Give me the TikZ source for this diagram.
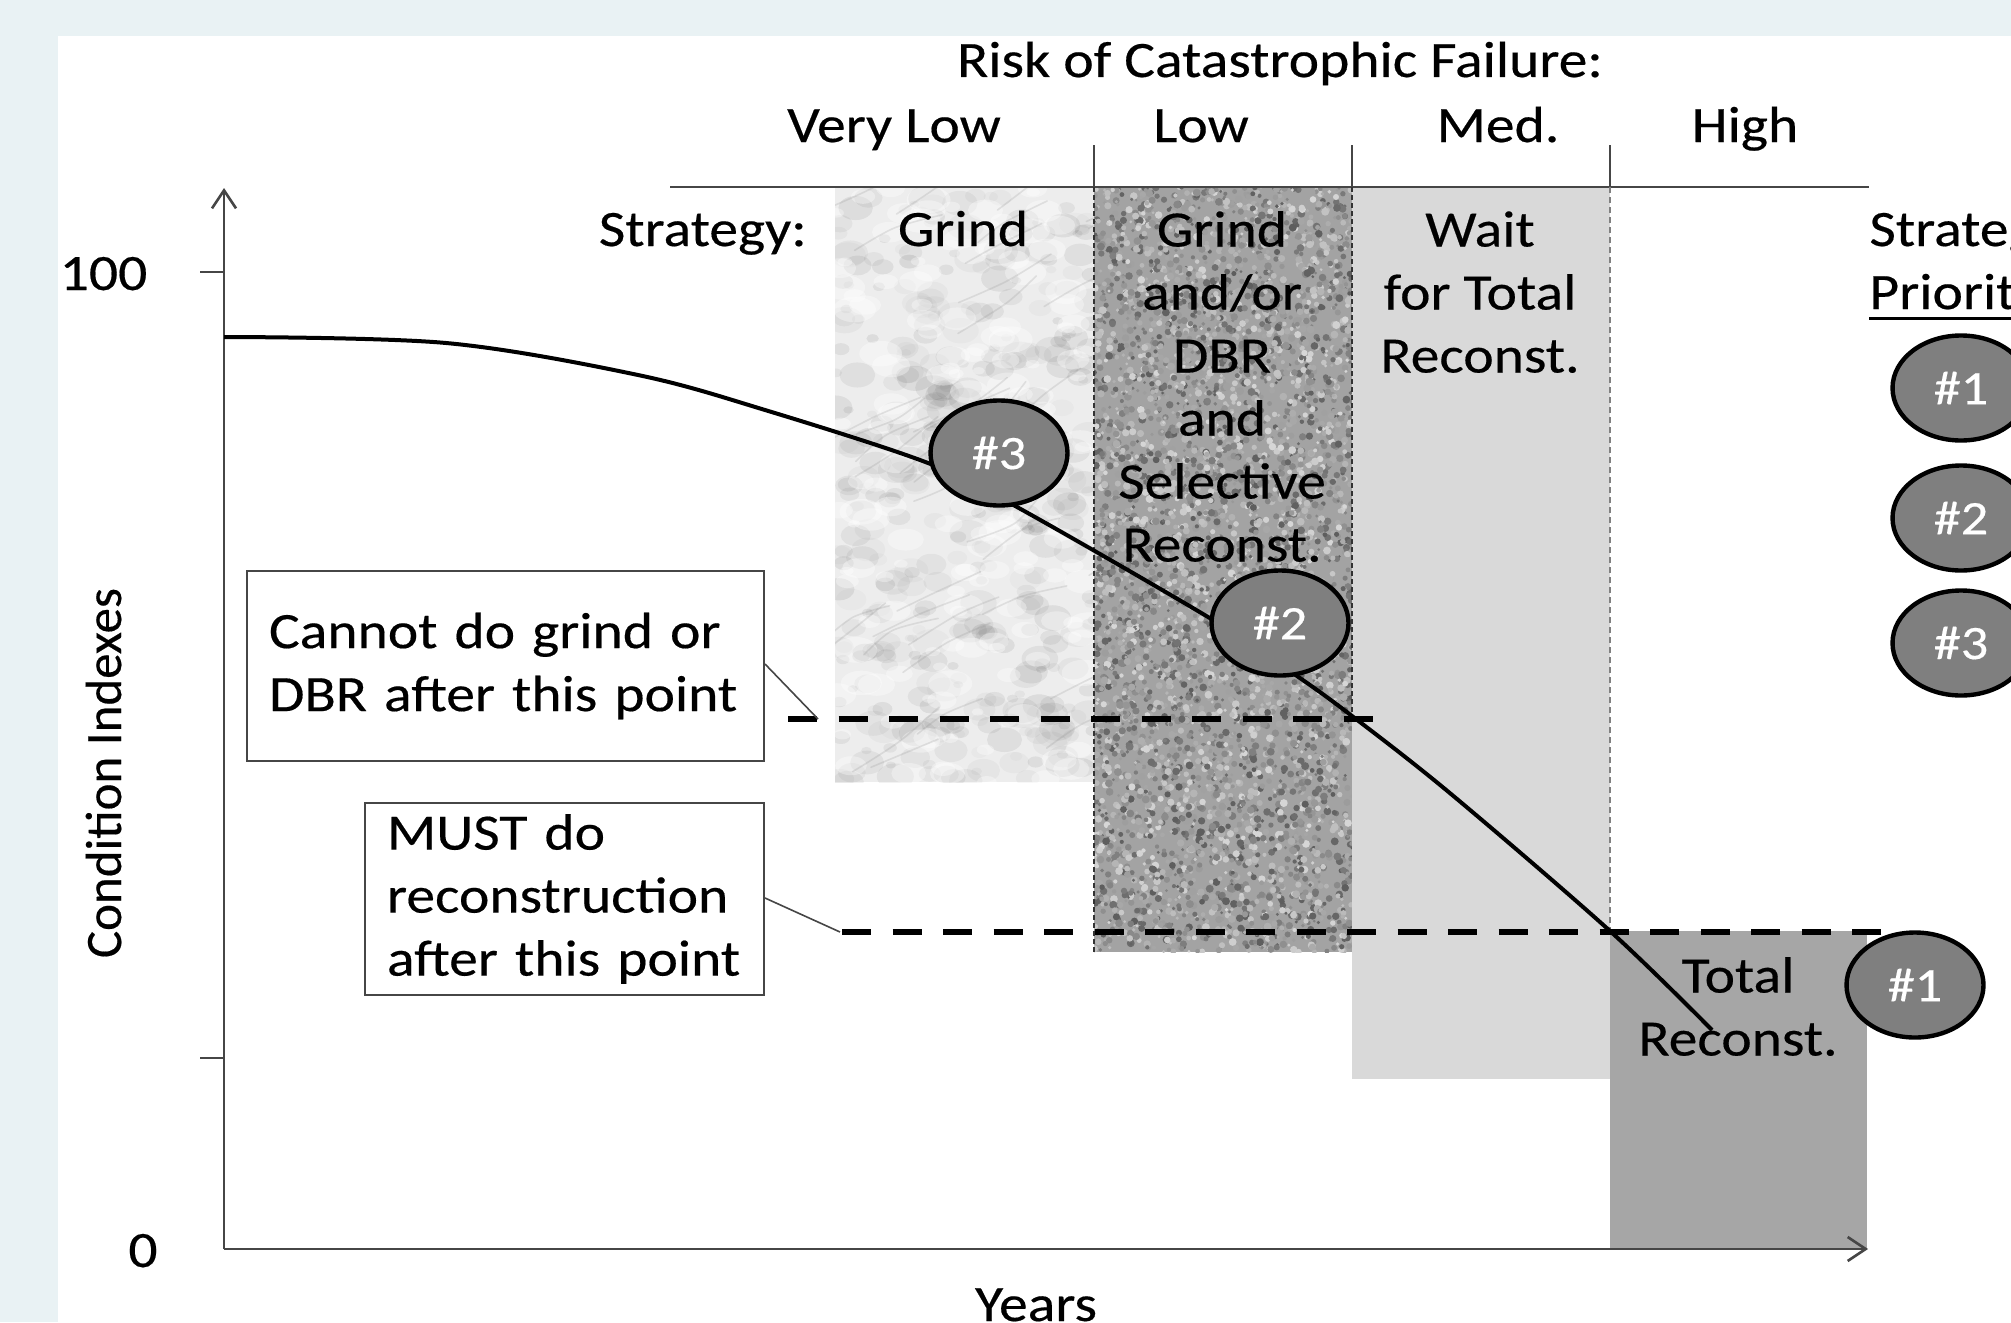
\documentclass[tikz,border=0pt]{standalone}
\usepackage{fontspec}
\setmainfont{Carlito}[FakeStretch=1.13,FakeBold=0.35]
\newfontfamily\uprightlabel{Carlito}[FakeBold=0.35]
\usetikzlibrary{arrows.meta,shapes.geometric}
\definecolor{bandbg}{RGB}{233,242,244}
\definecolor{medfill}{RGB}{217,217,217}
\definecolor{highfill}{RGB}{166,166,166}
\definecolor{badgefill}{RGB}{127,127,127}
\definecolor{axisgray}{RGB}{70,70,70}
\newcommand\txtfont{\fontsize{25.5}{31.5}\selectfont}
\newcommand\badgefont{\fontsize{24}{28}\selectfont}

\begin{document}
\begin{tikzpicture}[x=0.5pt,y=-0.5pt,
  lbl/.style={font=\txtfont, inner sep=0pt},
  lines/.style={lbl, align=center, anchor=north},
  axisline/.style={draw=axisgray, line width=1.3pt},
  sepline/.style={draw=axisgray, line width=1pt},
  edgedots/.style={draw=black!80, line width=0.9pt, dash pattern=on 2.5pt off 1.5pt},
  edgegray/.style={draw=black!50, line width=1.1pt, dash pattern=on 3pt off 2pt},
  limit/.style={draw=black, line width=3pt, dash pattern=on 14.5pt off 10.75pt},
  pointer/.style={draw=axisgray, line width=0.8pt},
  callout/.style={draw=axisgray, line width=1pt, fill=white, font=\txtfont, align=left,
    inner xsep=11pt, inner ysep=0pt},
  badge/.style={ellipse, draw=black, line width=2.2pt, fill=badgefill, text=white,
    font=\badgefont, inner sep=0pt, minimum width=68.5pt, minimum height=52.5pt},
  tick/.style={draw=axisgray, line width=1.2pt}
]
\useasboundingbox (0,0) rectangle (2011,1322);
\clip (0,0) rectangle (2011,1322);

% page and chart area
\fill[bandbg] (0,0) rectangle (2011,1322);
\fill[white] (58,36) rectangle (2011,1322);

% strategy zones
% Grind: marble
\begin{scope}
  \clip (835,187) rectangle (1094,782);
  \fill[black!7] (835,187) rectangle (1094,782);
  \pgfmathsetseed{5}
  \foreach \k in {1,...,420}{
    \pgfmathsetmacro\mx{835+259*rnd}
    \pgfmathsetmacro\my{187+595*rnd}
    \pgfmathsetmacro\mr{5+14*rnd}
    \pgfmathsetmacro\mo{0.02+0.05*rnd}
    \fill[black, opacity=\mo] (\mx,\my) ellipse[x radius=\mr, y radius=0.7*\mr];
  }
  \foreach \k in {1,...,160}{
    \pgfmathsetmacro\mx{835+259*rnd}
    \pgfmathsetmacro\my{187+595*rnd}
    \pgfmathsetmacro\mr{6+16*rnd}
    \fill[white, opacity=0.35] (\mx,\my) ellipse[x radius=\mr, y radius=0.6*\mr];
  }
  % soft diagonal veins
  \foreach \k in {1,...,40}{
    \pgfmathsetmacro\ax{815+280*rnd}
    \pgfmathsetmacro\ay{187+595*rnd}
    \pgfmathsetmacro\bx{\ax+25+25*rnd}
    \pgfmathsetmacro\by{\ay-15-20*rnd}
    \pgfmathsetmacro\cx{\bx+25+25*rnd}
    \pgfmathsetmacro\cy{\by-10-25*rnd}
    \draw[black!50, line width=0.8pt, opacity=0.18, line cap=round] plot[smooth] coordinates {(\ax,\ay) (\bx,\by) (\cx,\cy)};
  }
\end{scope}
% Grind and/or DBR: granite
\begin{scope}
  \clip (1094,187) rectangle (1352,952);
  \fill[black!36] (1094,187) rectangle (1352,952);
  \pgfmathsetseed{11}
  \foreach \k in {1,...,5200}{
    \pgfmathsetmacro\gx{1094+258*rnd}
    \pgfmathsetmacro\gy{187+765*rnd}
    \pgfmathsetmacro\gs{1.5+2.5*rnd}
    \pgfmathsetmacro\gc{int(16+48*rnd)}
    \fill[black!\gc] (\gx,\gy) circle[radius=\gs];
  }
\end{scope}
% Wait for total reconstruction
\fill[medfill] (1352,187) rectangle (1610,1079);
% Total reconstruction
\fill[highfill] (1610,931) rectangle (1867,1249);

% risk header
\draw[sepline] (670,187) -- (1869,187);
\foreach \sx in {1094,1352,1610}{\draw[sepline] (\sx,145) -- (\sx,187);}
\draw[edgedots] (1094,187) -- (1094,952);
\draw[edgedots] (1352,187) -- (1352,718);
\draw[edgegray] (1610,187) -- (1610,931);

% axes
\coordinate (origin) at (224,1249);
\coordinate (ytop) at (224,188);
\coordinate (xend) at (1868,1249);
\draw[axisline, -{Straight Barb[length=9pt,width=12pt]}] (origin) -- (ytop);
\draw[axisline, -{Straight Barb[length=9pt,width=12pt]}] (origin) -- (xend);
\draw[tick] (200,272) -- (224,272);
\draw[tick] (200,1058) -- (224,1058);

% condition curve
\draw[black, line width=2pt] plot[smooth, tension=0.55] coordinates {
  (224,337) (446,343) (638,375) (765,410) (928,463) (1017,507) (1213,620)
  (1297,676) (1352,716) (1451,794) (1610,931) (1712,1030)};

% threshold lines
\coordinate (l1a) at (788,719);
\coordinate (l1b) at (1375,719);
\coordinate (l2a) at (842,932);
\coordinate (l2b) at (1900,932);
\draw[limit] (l1a) -- (l1b);
\draw[limit] (l2a) -- (l2b);

% call-outs
\node[callout, text width=236.5pt, minimum height=95pt] (box1) at (505.5,666)
  {\mbox{Cannot do grind or}\\\mbox{DBR after this point}};
\node[callout, text width=177.5pt, minimum height=96pt] (box2) at (564.5,899)
  {\mbox{MUST do}\\\mbox{reconstruction}\\\mbox{after this point}};
\coordinate (p1) at (818,719);
\coordinate (p2) at (840,932);
\draw[pointer] ([yshift=1pt]box1.east) -- (p1);
\draw[pointer] ([yshift=0.5pt]box2.east) -- (p2);

% priority badges on the curve
\node[badge] (c3) at (999,453) {\#3};
\node[badge] (c2) at (1280,623) {\#2};
\node[badge] (c1) at (1915,985) {\#1};

% priority legend
\node[badge] (k1) at (1961,388) {\#1};
\node[badge] (k2) at (1961,518) {\#2};
\node[badge] (k3) at (1961,643) {\#3};
\node[lbl, anchor=base west] (legtitle) at (1869,246) {Strategy};
\node[lbl, anchor=base west] (legsub) at (1869,309) {Priority};
\draw[black, line width=1.5pt] (1869,318) -- (2011,318);

% header texts
\node[lbl, anchor=base] (risk) at (1280,77) {Risk of Catastrophic Failure:};
\node[lbl, anchor=base] (rvl) at (894,142) {Very Low};
\node[lbl, anchor=base] (rl) at (1201,142) {Low};
\node[lbl, anchor=base] (rm) at (1498,142) {Med.};
\node[lbl, anchor=base] (rh) at (1745,142) {High};

% strategy texts
\node[lbl, anchor=base east] (strat) at (807,246) {Strategy:};
\node[lbl, anchor=base] (s1) at (963,246) {Grind};
\node[lines] (s2) at (1222,202) {\strut Grind\\and/or\\DBR\\and\\Selective\\Reconst.};
\node[lines] (s3) at (1480,202) {\strut Wait\\for Total\\Reconst.};
\node[lines] (s4) at (1738,948) {\strut Total\\Reconst.};

% axis labels
\node[lbl, anchor=base] (y100) at (103.5,290) {100};
\node[lbl, anchor=base] (y0) at (143,1267) {0};
\node[lbl, anchor=base] (xlab) at (1036,1321) {Years};
\node[lbl, font=\uprightlabel\txtfont, anchor=base, rotate=90] (ylab) at (121,773) {Condition Indexes};
\end{tikzpicture}
\end{document}
